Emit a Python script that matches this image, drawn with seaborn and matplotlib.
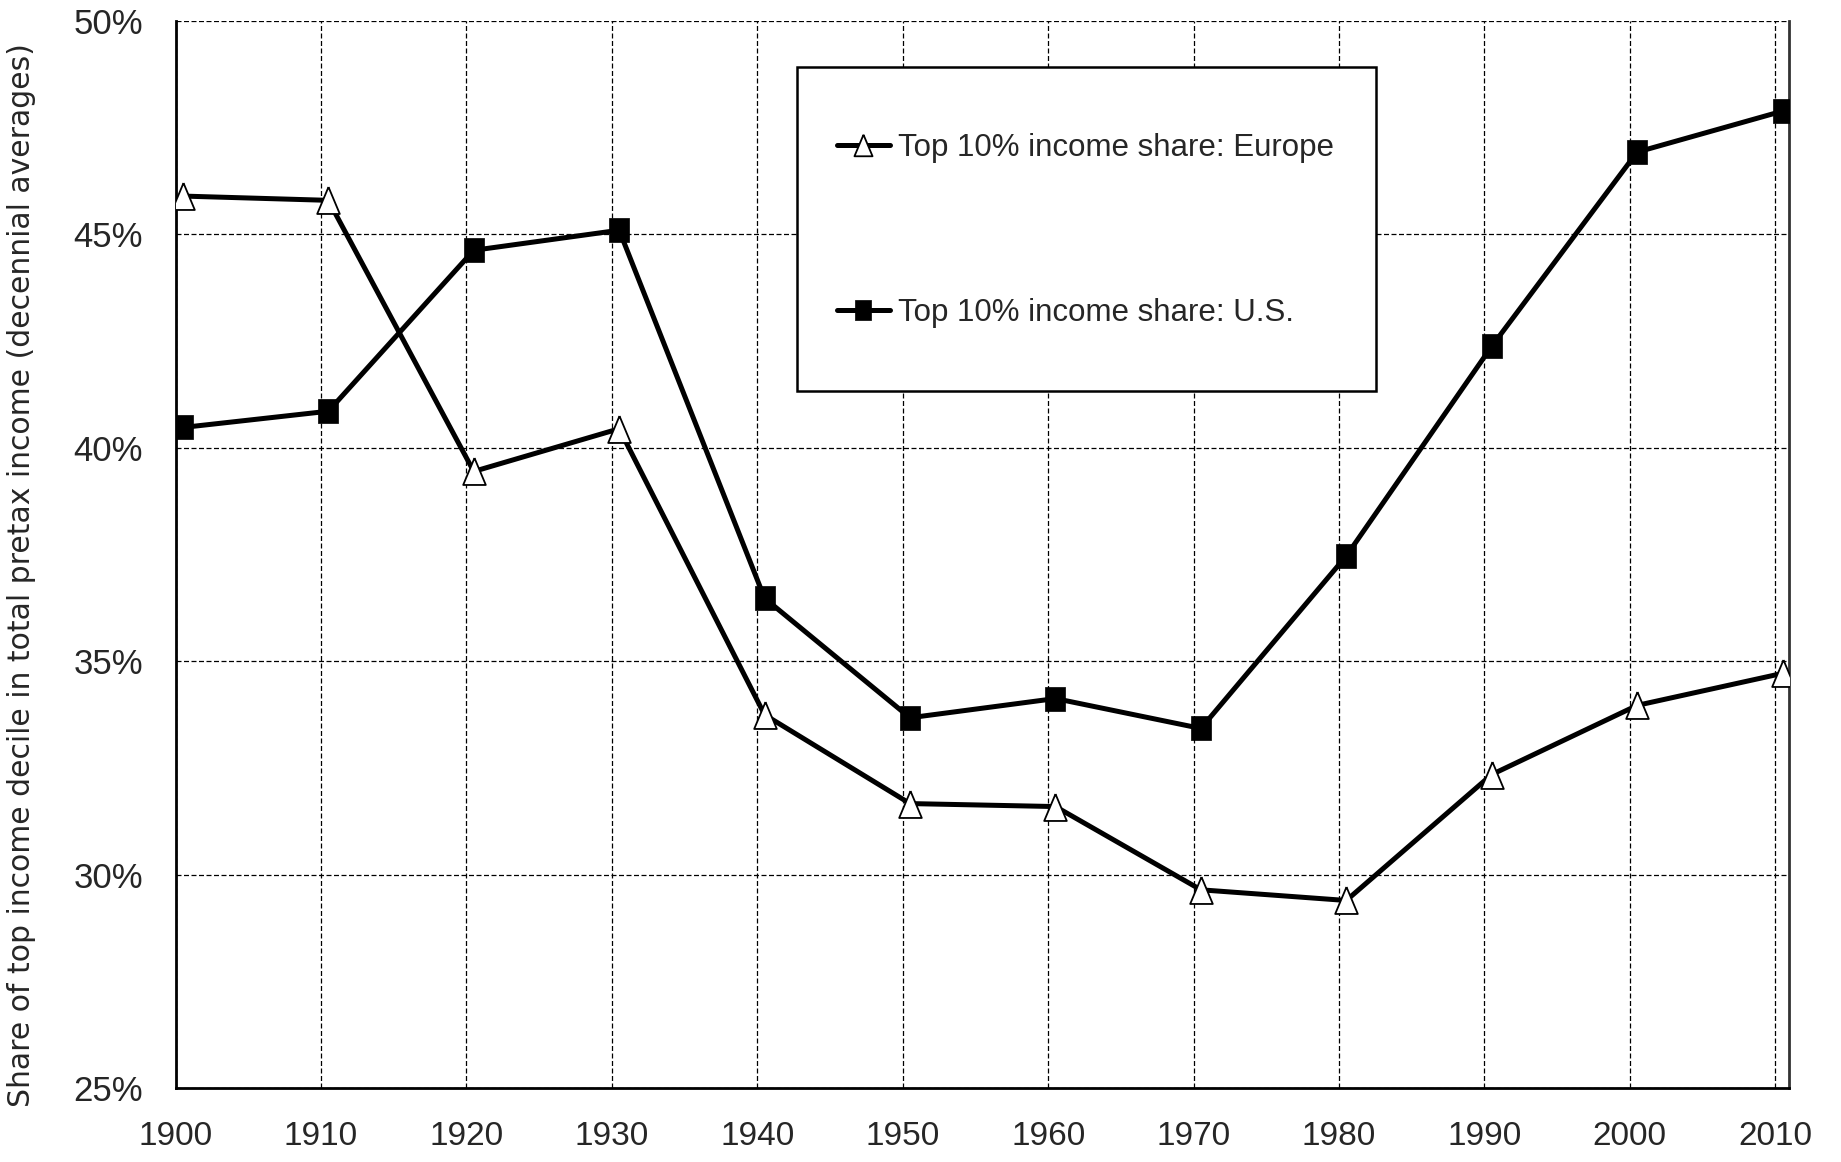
import pandas as pd
import matplotlib
matplotlib.use("Agg")
import matplotlib.pyplot as plt
import matplotlib.patches as mpatches
from matplotlib.ticker import PercentFormatter
import seaborn as sns

# decennial averages, top 10% income share (%)
decades = [1900, 1910, 1920, 1930, 1940, 1950, 1960, 1970, 1980, 1990, 2000, 2010]
europe = [45.9, 45.8, 39.45, 40.45, 33.75, 31.67, 31.6, 29.65, 29.4, 32.35, 33.97, 34.72]
us = [40.48, 40.86, 44.63, 45.1, 36.48, 33.68, 34.13, 33.43, 37.47, 42.38, 46.93, 47.89]
europe_label = "Top 10% income share: Europe"
us_label = "Top 10% income share: U.S."
ylabel = "Share of top income decile in total pretax income (decennial averages)"

df = pd.DataFrame({"decade": decades, "europe": europe, "us": us})
# points sit in the middle of the first year of each decade, like the excel date axis
df["x"] = df["decade"] + 0.5

# excel markers are a bit taller than wide
tri = [(0, 1), (-0.84, -1), (0.84, -1), (0, 1)]
sq = [(-0.85, -1), (0.85, -1), (0.85, 1), (-0.85, 1), (-0.85, -1)]

sns.set_style("white")
plt.rcParams["font.family"] = ["Liberation Sans", "DejaVu Sans"]

fig = plt.figure(figsize=(18.41, 11.62), dpi=100)
ax = fig.add_axes([0.0954, 0.0634, 0.8764, 0.9185])

sns.lineplot(data=df, x="x", y="us", ax=ax, color="black", linewidth=3.6,
             marker=sq, markersize=17.3, markerfacecolor="black",
             markeredgecolor="black", markeredgewidth=0.5, label=us_label,
             zorder=3)
sns.lineplot(data=df, x="x", y="europe", ax=ax, color="black", linewidth=3.6,
             marker=tri, markersize=19.4, markerfacecolor="white",
             markeredgecolor="black", markeredgewidth=1.3, label=europe_label,
             zorder=4)

ax.set_xlim(1900, 2010.95)
ax.set_ylim(25, 50)
ax.set_xticks(decades)
ax.set_yticks([25, 30, 35, 40, 45, 50])
ax.yaxis.set_major_formatter(PercentFormatter(decimals=0))

ax.grid(True, color="black", linestyle=(0, (4, 2)), linewidth=0.9)
ax.set_axisbelow(True)

for side in ["left", "bottom"]:
    ax.spines[side].set_color("black")
    ax.spines[side].set_linewidth(2)
ax.spines["right"].set_color("#333333")
ax.spines["right"].set_linewidth(2)
ax.spines["top"].set_visible(False)

ax.tick_params(axis="both", direction="out", length=9.5, width=1.5, color="black",
               pad=14)
ax.tick_params(axis="x", labelsize=24)
ax.tick_params(axis="y", labelsize=25)

ax.set_xlabel("")
ax.set_ylabel(ylabel, fontsize=21.5, family=["DejaVu Sans"])
ax.yaxis.set_label_coords(-0.0866, 0.481)

# legend frame drawn as a box, legend text inside it
box = mpatches.Rectangle((0.3851, 0.6536), 0.3589, 0.3034, transform=ax.transAxes,
                         facecolor="white", edgecolor="black", linewidth=1.8,
                         zorder=5)
ax.add_patch(box)
handles, labels = ax.get_legend_handles_labels()
order = [labels.index(europe_label), labels.index(us_label)]
leg = ax.legend([handles[i] for i in order], [labels[i] for i in order],
                loc="center left", bbox_to_anchor=(0.400, 0.8037),
                frameon=False, handlelength=1.7, handletextpad=0.25,
                labelspacing=4.3, borderpad=0, markerscale=0.8,
                prop={"family": ["Liberation Sans"], "size": 22.5})
leg.set_zorder(6)

fig.savefig("out.png", dpi=100, facecolor="white")
